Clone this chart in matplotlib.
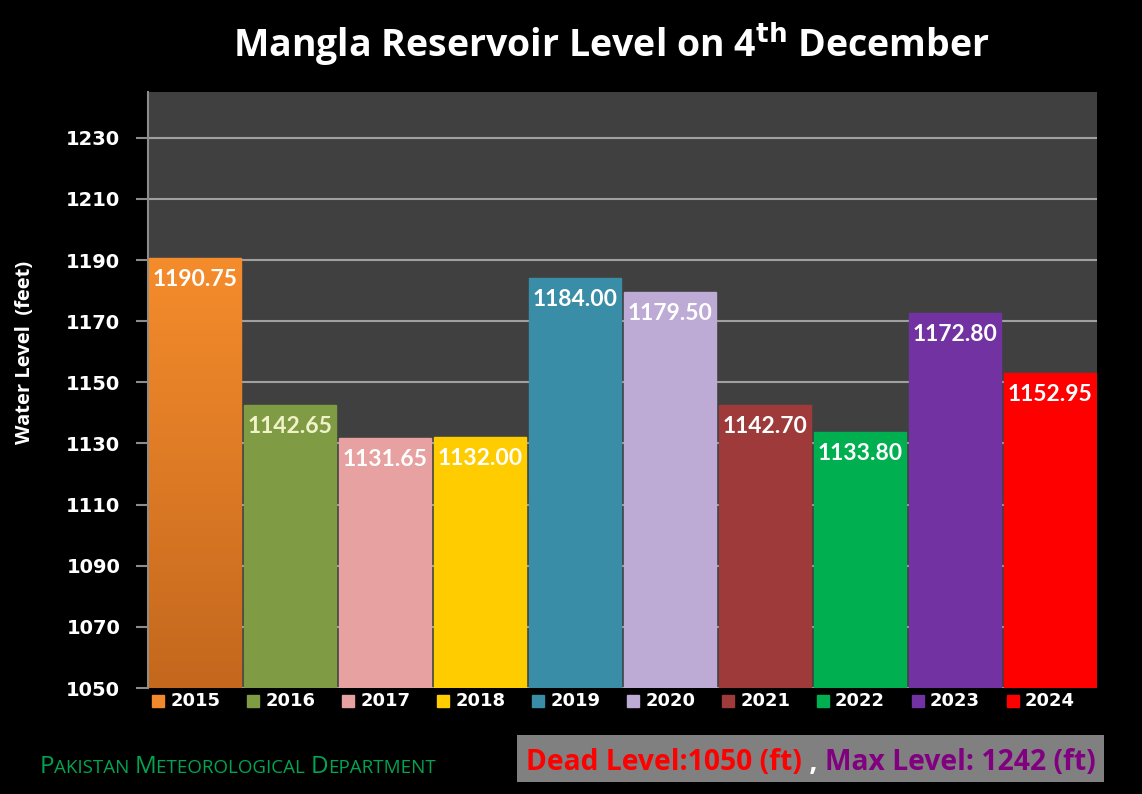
import matplotlib
matplotlib.use("Agg")
import matplotlib.pyplot as plt
import numpy as np
from matplotlib.patches import Rectangle
from matplotlib.colors import LinearSegmentedColormap
import matplotlib.transforms as mtransforms

years = ["2015", "2016", "2017", "2018", "2019", "2020", "2021", "2022", "2023", "2024"]
levels = [1190.75, 1142.65, 1131.65, 1132.00, 1184.00, 1179.50, 1142.70, 1133.80, 1172.80, 1152.95]
colors = ["#F08A2C", "#7F9C45", "#E6A1A0", "#FFCC00", "#3A8DA6",
          "#BDAAD5", "#9E3B3A", "#00B050", "#7232A2", "#FF0000"]
label_colors = ["white", "#F2F2C8", "white", "white", "white",
                "white", "white", "white", "white", "white"]
yticks = [1050, 1070, 1090, 1110, 1130, 1150, 1170, 1190, 1210, 1230]
base = 1050

fig = plt.figure(figsize=(11.42, 7.94), dpi=100, facecolor="black")
ax = fig.add_axes([148/1142, 1-688/794, (1097-148)/1142, (688-92)/794])
ax.set_facecolor("#404040")

x = np.arange(len(years))
bars = ax.bar(x, [v - base for v in levels], bottom=base, width=0.97,
              color=colors, edgecolor=colors, linewidth=1, zorder=3)

# gradient on first bar
b0 = bars[0]
grad = np.linspace(0, 1, 100).reshape(-1, 1)
cm = LinearSegmentedColormap.from_list("o", ["#C4681E", "#F58C2C"])
im = ax.imshow(grad, cmap=cm, aspect="auto", origin="lower",
               extent=[b0.get_x(), b0.get_x()+b0.get_width(), base, levels[0]], zorder=4)
im.set_clip_path(b0)

ax.set_xlim(-0.5, len(years)-0.5)
ax.set_ylim(1050, 1245)
ax.set_yticks(yticks)
ax.set_xticks([])
ax.grid(axis="y", color="#A0A0A0", linewidth=1.5, zorder=1)
for s in ["top", "right", "bottom"]:
    ax.spines[s].set_visible(False)
ax.spines["left"].set_color("#8C8C8C")
ax.spines["left"].set_linewidth(1.5)
ax.tick_params(axis="y", colors="#8C8C8C", length=9, width=1.5, direction="out", pad=11)
for t in ax.get_yticklabels():
    t.set_color("white")
    t.set_fontweight("bold")
    t.set_fontsize(14)
    t.set_family("DejaVu Sans")

fig.text(25/1142, 1-352/794, "Water Level  (feet)", rotation=90, ha="center", va="center",
         color="white", fontsize=14.5, fontweight="bold", family="Open Sans")

for xi, v, lc in zip(x, levels, label_colors):
    ax.text(xi, v - 3.6, f"{v:.2f}", ha="center", va="top", color=lc,
            fontsize=16.5, fontweight="bold", family="Lato", zorder=5)

# legend entries below each bar
trans = mtransforms.blended_transform_factory(ax.transData, fig.transFigure)
ly = 1 - 701/794
for xi, yr, c in zip(x, years, colors):
    ax.plot([xi - 0.39], [ly], marker="s", markersize=9, color=c, transform=trans,
            clip_on=False, linestyle="")
    ax.text(xi - 0.26, ly, yr, transform=trans, ha="left", va="center", color="white",
            fontsize=13, fontweight="bold", family="DejaVu Sans")

fig.text(0.535, 1-45/794, "Mangla Reservoir Level on 4$^{\\mathbf{th}}$ December", ha="center", va="center",
         color="white", fontsize=27, fontweight="bold", family="Open Sans")

# bottom-left organisation name in small caps
renderer = fig.canvas.get_renderer()
pieces = [("P", 17.5), ("AKISTAN ", 13.5), ("M", 17.5), ("ETEOROLOGICAL ", 13.5), ("D", 17.5), ("EPARTMENT", 13.5)]
xpos = 40
for txt, sz in pieces:
    t = fig.text(xpos/1142, 1-773/794, txt, color="#00A550", fontsize=sz, family="Open Sans",
                 ha="left", va="baseline")
    bb = t.get_window_extent(renderer=renderer)
    xpos += bb.width * 1142 / fig.bbox.width

# gray box
fig.patches.append(Rectangle((517/1142, 1-782/794), (1104-517)/1142, (782-735)/794,
                             transform=fig.transFigure, facecolor="#808080", edgecolor="none"))
parts = [("Dead Level:1050 (ft)", "#FF0000"), (" , ", "white"), ("Max Level: 1242 (ft)", "#800080")]
xpos = 526
for txt, c in parts:
    t = fig.text(xpos/1142, 1-770/794, txt, color=c, fontsize=20.3, fontweight="bold",
                 family="Open Sans", ha="left", va="baseline")
    bb = t.get_window_extent(renderer=renderer)
    xpos += bb.width * 1142 / fig.bbox.width

fig.savefig("out.png", dpi=100, facecolor="black")
